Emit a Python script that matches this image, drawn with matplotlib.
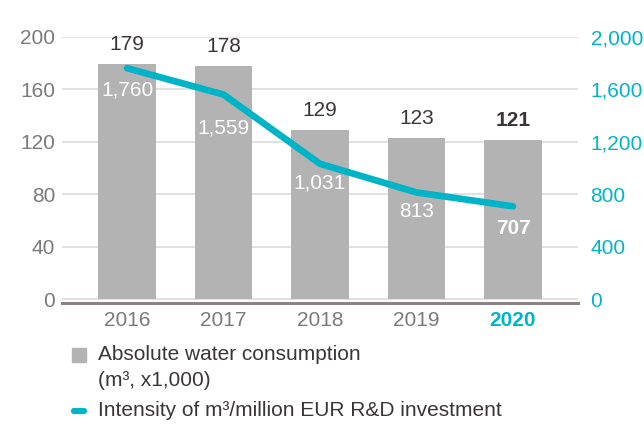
import numpy as np
import matplotlib.pyplot as plt
from matplotlib.patches import Rectangle
from matplotlib.lines import Line2D

plt.rcParams['font.family'] = ['Liberation Sans', 'DejaVu Sans']

# data
years = ['2016', '2017', '2018', '2019', '2020']
water = [179, 178, 129, 123, 121]            # m3 x1,000
intensity = [1760, 1559, 1031, 813, 707]     # m3 / million EUR R&D
intensity_labels = ['1,760', '1,559', '1,031', '813', '707']
left_ticks = [0, 40, 80, 120, 160, 200]
right_ticks = [0, 400, 800, 1200, 1600, 2000]
right_tick_labels = ['0', '400', '800', '1,200', '1,600', '2,000']

TEAL = '#00b4c8'
BAR_GREY = '#b3b3b3'
TICK_GREY = '#7a7a7a'
DARK = '#3a3536'

fig = plt.figure(figsize=(6.44, 4.26), dpi=100)
ax = fig.add_axes([62/644, 1 - 303/426, 516/644, 266.3/426])
x = np.arange(len(years))

ax.bar(x, water, width=0.6, color=BAR_GREY, zorder=2)
ax.set_xlim(-0.674, 4.674)
ax.set_ylim(-3, 200)
ax.set_yticks(left_ticks)
ax.yaxis.grid(True, color='#dcdcdc', linewidth=1.2, zorder=0)
ax.set_axisbelow(True)
ax.tick_params(axis='y', length=0, pad=5, labelsize=15, labelcolor=TICK_GREY)
ax.set_xticks(x)
ax.set_xticklabels(years)
ax.tick_params(axis='x', length=0, pad=6, labelsize=15, labelcolor=TICK_GREY)
xt = ax.get_xticklabels()[-1]
xt.set_color(TEAL)
xt.set_fontweight('bold')
for s in ['top', 'left', 'right']:
    ax.spines[s].set_visible(False)
ax.spines['bottom'].set_color('#8a8283')
ax.spines['bottom'].set_linewidth(2.2)

# bar values
for i, v in enumerate(water):
    ax.annotate(str(v), (x[i], v), xytext=(0, 14), textcoords='offset points',
                ha='center', va='center', fontsize=15, color=DARK,
                fontweight='bold' if i == len(water) - 1 else 'normal')

ax2 = ax.twinx()
ax2.set_ylim(-30, 2000)
ax2.plot(x, intensity, color=TEAL, linewidth=4.8, solid_capstyle='round',
         solid_joinstyle='round', zorder=3)
ax2.set_yticks(right_ticks)
ax2.set_yticklabels(right_tick_labels)
ax2.tick_params(axis='y', length=0, pad=9, labelsize=15, labelcolor=TEAL)
for s in ax2.spines.values():
    s.set_visible(False)

label_offsets = [-16, -24, -14, -14, -16]
for i, v in enumerate(intensity):
    ax2.annotate(intensity_labels[i], (x[i], v), xytext=(0, label_offsets[i]),
                 textcoords='offset points', ha='center', va='center',
                 fontsize=15, color='white',
                 fontweight='bold' if i == len(intensity) - 1 else 'normal')

# legend
fig.add_artist(Rectangle((72/644, 1 - 362/426), 14/644, 14/426,
                         transform=fig.transFigure, color=BAR_GREY))
fig.text(98/644, 1 - 355/426, 'Absolute water consumption', fontsize=15,
         color=DARK, va='center', ha='left')
fig.text(98/644, 1 - 380/426, '(m³, x1,000)', fontsize=15,
         color=DARK, va='center', ha='left')
fig.add_artist(Line2D([74/644, 84/644], [1 - 411/426, 1 - 411/426],
                      transform=fig.transFigure, color=TEAL, linewidth=4.5,
                      solid_capstyle='round'))
fig.text(98/644, 1 - 411/426, 'Intensity of m³/million EUR R&D investment',
         fontsize=15, color=DARK, va='center', ha='left')

fig.savefig('out.png', dpi=100)
